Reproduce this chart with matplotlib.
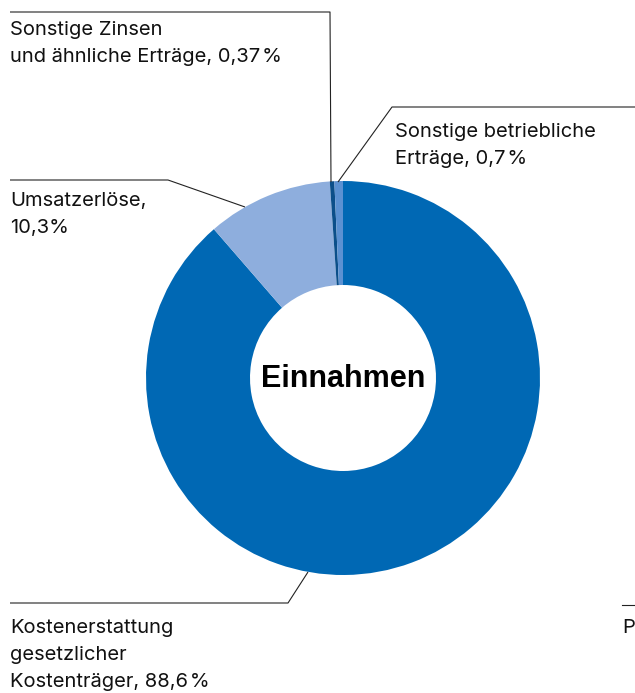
import matplotlib.pyplot as plt

# Einnahmen, Anteile in %
labels = ["Kostenerstattung\ngesetzlicher\nKostenträger, 88,6\u200a%",
          "Umsatzerlöse,\n10,3%",
          "Sonstige Zinsen\nund ähnliche Erträge, 0,37\u200a%",
          "Sonstige betriebliche\nErträge, 0,7\u200a%"]
values = [88.6, 10.3, 0.37, 0.7]
colors = ["#0068b4", "#8eaedd", "#0b4f8a", "#5b91d2"]

W, H = 635, 693
def Y(y):  # pixel von oben -> datenkoordinate
    return H - y

fig = plt.figure(figsize=(W / 100, H / 100), dpi=100)
ax = fig.add_axes([0, 0, 1, 1])

cx, cy, r_out, r_in = 343, 378, 197, 93
ax.pie(values, colors=colors, startangle=90, counterclock=False,
       center=(cx, Y(cy)), radius=r_out, frame=True,
       wedgeprops=dict(width=r_out - r_in, linewidth=0))
ax.set_xlim(0, W)
ax.set_ylim(0, H)
ax.set_aspect("equal")
ax.axis("off")

ax.text(cx, Y(379), "Einnahmen", ha="center", va="center", fontsize=22,
        fontweight="bold", family=["Liberation Sans", "DejaVu Sans"])

lc = "#222222"
lw = 0.8
fam = ["Inter", "DejaVu Sans"]
fs = 14.5

# Leader lines (Textanker -> Segmentrand)
leaders = [
    [(10, 603), (288, 603), (308, 572)],
    [(10, 180), (168, 180), (245, 207)],
    [(10, 12), (330, 12), (331, 182)],
    [(635, 107), (392, 107), (338, 182)],
]
for pts in leaders:
    ax.plot([p[0] for p in pts], [Y(p[1]) for p in pts], color=lc, lw=lw,
            solid_capstyle="butt")

# Label positions (x, baseline of first line)
label_pos = [(10, 633), (10, 206), (10, 35), (395, 137)]
for txt, (x, y) in zip(labels, label_pos):
    for i, line in enumerate(txt.split("\n")):
        ax.text(x, Y(y + i * 27), line, ha="left", va="baseline",
                fontsize=fs, family=fam, color="#111111")

# angeschnittenes Nachbardiagramm
ax.plot([622, 635], [Y(605), Y(605)], color=lc, lw=lw)
ax.text(622, Y(633), "P", ha="left", va="baseline", fontsize=fs,
        family=fam, color="#111111")

fig.savefig("out.png", dpi=100, facecolor="white")
